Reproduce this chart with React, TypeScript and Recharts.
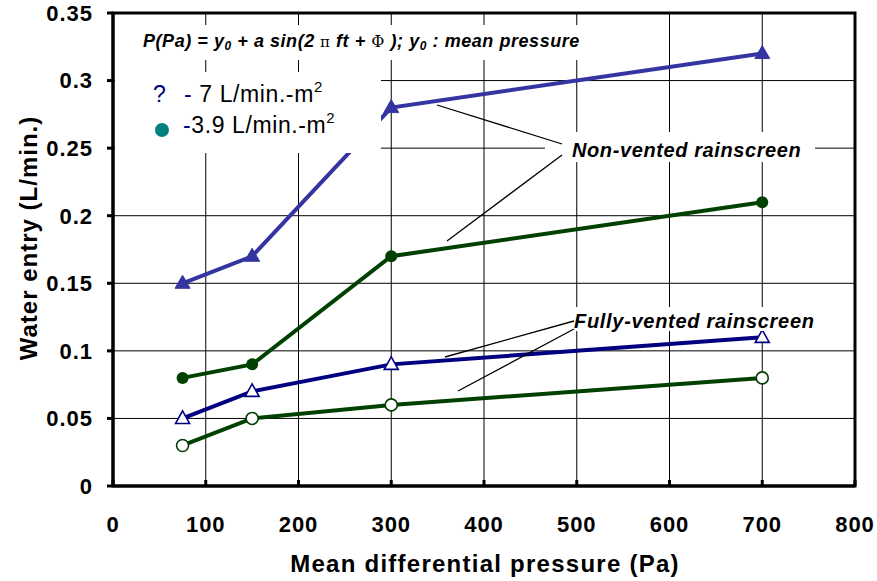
import { LineChart, Line, XAxis, YAxis, CartesianGrid } from 'recharts';

// mean differential pressure (Pa)
const pressures = [75, 150, 300, 700];
// water entry (L/min.)
const nonVented7 = [0.15, 0.17, 0.28, 0.32];
const nonVented39 = [0.08, 0.09, 0.17, 0.21];
const fullyVented7 = [0.05, 0.07, 0.09, 0.11];
const fullyVented39 = [0.03, 0.05, 0.06, 0.08];

const xTicks = [0, 100, 200, 300, 400, 500, 600, 700, 800];
const yTicks = [0, 0.05, 0.1, 0.15, 0.2, 0.25, 0.3, 0.35];

const data = pressures.map((p, i) => ({
  p,
  nv7: nonVented7[i],
  nv39: nonVented39[i],
  fv7: fullyVented7[i],
  fv39: fullyVented39[i],
}));

const W = 877;
const H = 581;
const FONT = '"Liberation Sans", Arial, sans-serif';
const BLUE = '#3535a2';
const NAVY = '#000080';
const GREEN = '#004000';

// plot box (matches margins below)
const PL = 113;
const PT = 13;
const PR = 855;
const PB = 486;

const tickStyle = { fontSize: 22, fontWeight: 'bold', fill: '#000', fontFamily: FONT, letterSpacing: 1 };

const filledTriangle = (color: string) => (props: any) => {
  const { cx, cy, index } = props;
  if (cx == null || cy == null) return <g key={`ft${index}`} />;
  return <polygon key={`ft${index}`} points={`${cx},${cy - 8} ${cx - 7.5},${cy + 5} ${cx + 7.5},${cy + 5}`} fill={color} stroke={color} strokeWidth={1} />;
};

const openTriangle = (color: string) => (props: any) => {
  const { cx, cy, index } = props;
  if (cx == null || cy == null) return <g key={`ot${index}`} />;
  return <polygon key={`ot${index}`} points={`${cx},${cy - 7.5} ${cx - 7},${cy + 5} ${cx + 7},${cy + 5}`} fill="#fff" stroke={color} strokeWidth={1.6} />;
};

const filledCircle = (color: string) => (props: any) => {
  const { cx, cy, index } = props;
  if (cx == null || cy == null) return <g key={`fc${index}`} />;
  return <circle key={`fc${index}`} cx={cx} cy={cy} r={6} fill={color} />;
};

const openCircle = (color: string) => (props: any) => {
  const { cx, cy, index } = props;
  if (cx == null || cy == null) return <g key={`oc${index}`} />;
  return <circle key={`oc${index}`} cx={cx} cy={cy} r={6} fill="#fff" stroke={color} strokeWidth={1.6} />;
};

const Overlay = () => (
  <svg width={W} height={H} style={{ position: 'absolute', left: 0, top: 0, pointerEvents: 'none' }} fontFamily={FONT}>
    {/* white boxes behind the text blocks */}
    <rect x={115} y={25} width={485} height={35} fill="#fff" />
    <rect x={115} y={72} width={266} height={81} fill="#fff" />
    <rect x={545} y={132} width={270} height={30} fill="#fff" />
    <rect x={572} y={307} width={243} height={24} fill="#fff" />

    {/* plot frame */}
    <rect x={PL} y={PT} width={PR - PL} height={PB - PT} fill="none" stroke="#000" strokeWidth={3} />

    {/* equation */}
    <text x={143} y={47} fontSize={18} fontWeight="bold" fontStyle="italic" letterSpacing={0.55} fill="#000">
      P(Pa) = y<tspan fontSize={12} dy={3}>0</tspan>
      <tspan dy={-3}>  + a sin(2</tspan>
      <tspan fontWeight="normal" fontStyle="normal" fontSize={15} fontFamily="DejaVu Serif"> π</tspan>
      <tspan> ft + </tspan>
      <tspan fontWeight="normal" fontStyle="normal" fontSize={16} fontFamily="DejaVu Serif">Φ</tspan>
      <tspan> );  y</tspan>
      <tspan fontSize={12} dy={3}>0</tspan>
      <tspan dy={-3}> : mean pressure</tspan>
    </text>

    {/* legend */}
    <text x={153} y={102} fontSize={23} fill="#000" letterSpacing={0.6}>
      <tspan fill={NAVY}>?</tspan>
      <tspan x={184} fill={NAVY}>-</tspan>
      <tspan> 7 L/min.-m</tspan>
      <tspan fontSize={15} dy={-10}>2</tspan>
    </text>
    <circle cx={162} cy={130} r={7} fill="#008080" />
    <text x={183} y={133} fontSize={23} fill="#000" letterSpacing={0.6}>
      <tspan fill={NAVY}>-</tspan>
      <tspan>3.9 L/min.-m</tspan>
      <tspan fontSize={15} dy={-10}>2</tspan>
    </text>

    {/* annotations */}
    <line x1={562} y1={144} x2={437} y2={105} stroke="#000" strokeWidth={1.3} />
    <line x1={562} y1={155} x2={447} y2={241} stroke="#000" strokeWidth={1.3} />
    <text x={572} y={157} fontSize={20} fontWeight="bold" fontStyle="italic" letterSpacing={0.6} fill="#000">
      Non-vented rainscreen
    </text>
    <line x1={574} y1={321} x2={445} y2={357} stroke="#000" strokeWidth={1.3} />
    <line x1={574} y1={329} x2={458} y2={391} stroke="#000" strokeWidth={1.3} />
    <text x={574} y={328} fontSize={20} fontWeight="bold" fontStyle="italic" letterSpacing={0.7} fill="#000">
      Fully-vented rainscreen
    </text>

    {/* axis titles */}
    <text x={485} y={572} textAnchor="middle" fontSize={24} fontWeight="bold" letterSpacing={1.25} fill="#000">
      Mean differential pressure (Pa)
    </text>
    <text
      transform="translate(37,238) rotate(-90)"
      textAnchor="middle"
      fontSize={24}
      fontWeight="bold"
      letterSpacing={1}
      fill="#000"
    >
      Water entry (L/min.)
    </text>
  </svg>
);

export default function App() {
  return (
    <div style={{ position: 'absolute', left: 0, top: 0, width: W, height: H, background: '#fff', fontFamily: FONT }}>
      <LineChart width={W} height={H} data={data} margin={{ top: PT, right: W - PR, bottom: 35, left: 0 }}>
        <CartesianGrid stroke="#000" strokeWidth={1} />
        <XAxis
          type="number"
          dataKey="p"
          domain={[0, 800]}
          ticks={xTicks}
          height={60}
          axisLine={{ stroke: '#000', strokeWidth: 3 }}
          tickLine={{ stroke: '#000', strokeWidth: 3 }}
          tickSize={-6}
          tickMargin={36}
          tick={tickStyle}
          interval={0}
        />
        <YAxis
          type="number"
          domain={[0, 0.35]}
          ticks={yTicks}
          width={PL}
          axisLine={{ stroke: '#000', strokeWidth: 3 }}
          tickLine={{ stroke: '#000', strokeWidth: 3 }}
          tickSize={6}
          tickMargin={14}
          tick={tickStyle}
          interval={0}
        />
        <Line dataKey="fv39" stroke={GREEN} strokeWidth={4} dot={openCircle(GREEN)} activeDot={false} isAnimationActive={false} />
        <Line dataKey="fv7" stroke={NAVY} strokeWidth={4} dot={openTriangle(NAVY)} activeDot={false} isAnimationActive={false} />
        <Line dataKey="nv39" stroke={GREEN} strokeWidth={4} dot={filledCircle(GREEN)} activeDot={false} isAnimationActive={false} />
        <Line dataKey="nv7" stroke={BLUE} strokeWidth={4} dot={filledTriangle(BLUE)} activeDot={false} isAnimationActive={false} />
      </LineChart>
      <Overlay />
    </div>
  );
}
